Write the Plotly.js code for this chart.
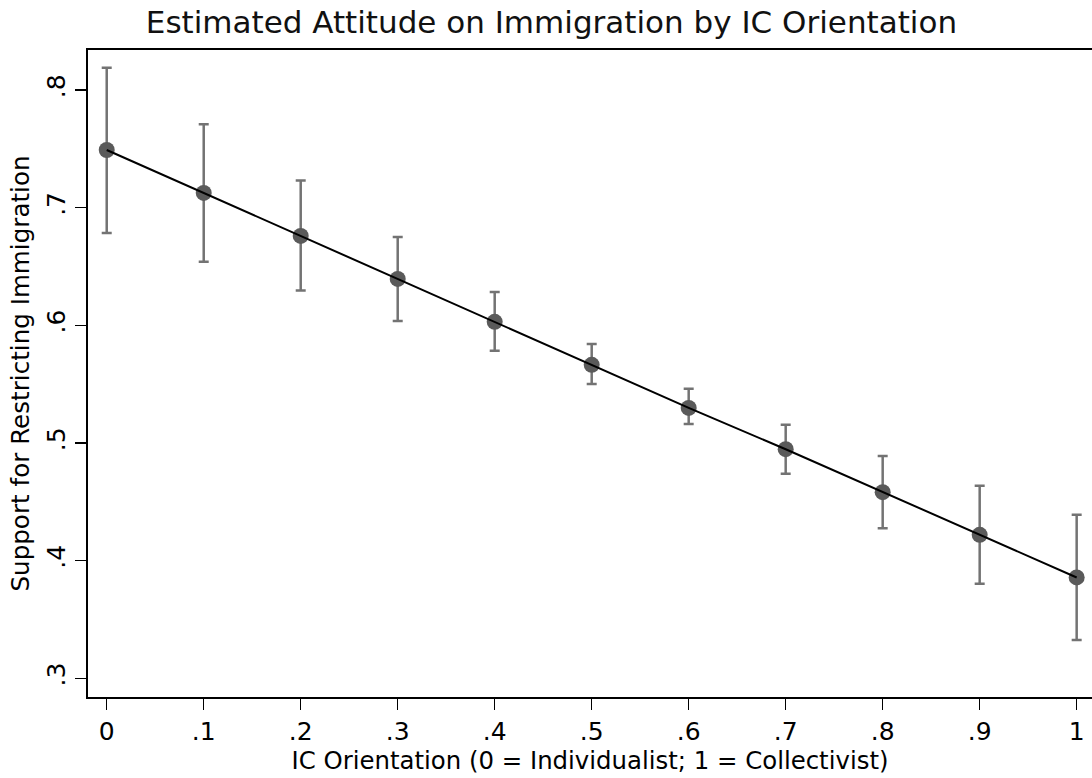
<!DOCTYPE html>
<html>
<head>
<meta charset="utf-8">
<script src="https://cdn.plot.ly/plotly-3.0.1.min.js"></script>
<style>
html,body{margin:0;padding:0;background:#fff;}
#chart{width:1092px;height:778px;}
</style>
</head>
<body>
<div id="chart"></div>
<script>
const icOrientation = [0, 0.1, 0.2, 0.3, 0.4, 0.5, 0.6, 0.7, 0.8, 0.9, 1.0];
const estimate = [0.749, 0.7125, 0.676, 0.6394, 0.603, 0.5664, 0.5298, 0.4947, 0.4582, 0.4219, 0.3857];
const ciLower  = [0.6785, 0.654, 0.6295, 0.6037, 0.5783, 0.5502, 0.5162, 0.4738, 0.4276, 0.3803, 0.3325];
const ciUpper  = [0.819, 0.7709, 0.723, 0.675, 0.6284, 0.5842, 0.546, 0.5154, 0.489, 0.4636, 0.4389];
const xTickVals = [0, 0.1, 0.2, 0.3, 0.4, 0.5, 0.6, 0.7, 0.8, 0.9, 1];
const xTickText = ["0", ".1", ".2", ".3", ".4", ".5", ".6", ".7", ".8", ".9", "1"];
const yTickVals = [0.3, 0.4, 0.5, 0.6, 0.7, 0.8];
const yTickText = [".3", ".4", ".5", ".6", ".7", ".8"];

const plus = estimate.map((v, i) => ciUpper[i] - v);
const minus = estimate.map((v, i) => v - ciLower[i]);

const FONT = "DejaVu Sans, Liberation Sans, Arial, sans-serif";

const traces = [
  {
    x: icOrientation, y: estimate, type: 'scatter', mode: 'markers',
    marker: {color: '#5a5a5a', size: 16},
    error_y: {type: 'data', symmetric: false, array: plus, arrayminus: minus,
              color: '#737373', thickness: 2.5, width: 5},
    showlegend: false, hoverinfo: 'skip'
  },
  {
    x: icOrientation, y: estimate, type: 'scatter', mode: 'lines',
    line: {color: '#000000', width: 2},
    showlegend: false, hoverinfo: 'skip'
  }
];

const layout = {
  width: 1092, height: 778,
  paper_bgcolor: '#ffffff', plot_bgcolor: '#ffffff',
  margin: {l: 88, r: 0, t: 50, b: 81, pad: 0},
  font: {family: FONT, color: '#000000'},
  title: {text: 'Estimated Attitude on Immigration by IC Orientation',
          font: {family: FONT, size: 31, color: '#111111'},
          x: 0.505, xanchor: 'center', y: 0.971, yanchor: 'middle'},
  xaxis: {
    range: [-0.0193, 1.0158], tickvals: xTickVals, ticktext: xTickText,
    ticks: 'outside', ticklen: 11, tickwidth: 1.5, tickcolor: '#000',
    showline: true, linecolor: '#000', linewidth: 2, mirror: true,
    showgrid: false, zeroline: false,
    tickfont: {family: FONT, size: 25, color: '#000'},
    title: {text: 'IC Orientation (0 = Individualist; 1 = Collectivist)',
            font: {family: FONT, size: 24.4, color: '#000'}, standoff: 5}
  },
  yaxis: {
    range: [0.2841, 0.834], tickvals: yTickVals, ticktext: yTickText,
    ticks: 'outside', ticklen: 11, tickwidth: 1.5, tickcolor: '#000',
    showline: true, linecolor: '#000', linewidth: 2, mirror: false,
    showgrid: false, zeroline: false, tickangle: -90,
    tickfont: {family: FONT, size: 25, color: '#000'},
    title: {text: 'Support for Restricting Immigration',
            font: {family: FONT, size: 24.6, color: '#000'}, standoff: 5}
  }
};

Plotly.newPlot('chart', traces, layout, {displayModeBar: false, staticPlot: true});
</script>
</body>
</html>
